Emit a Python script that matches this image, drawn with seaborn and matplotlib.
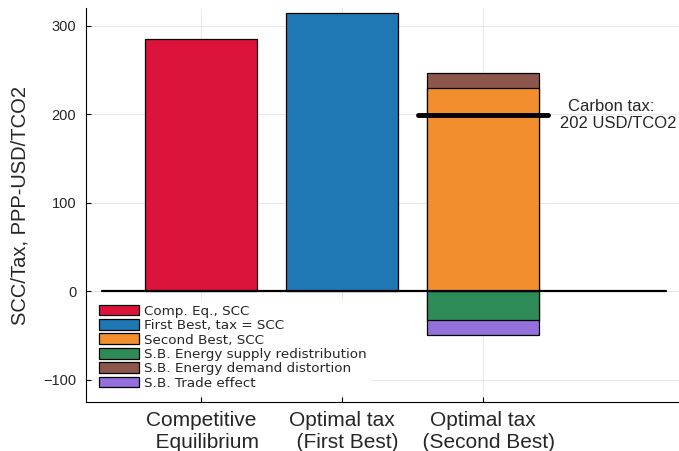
import pandas as pd
import matplotlib.pyplot as plt
import seaborn as sns
from matplotlib.patches import Patch

# categories (tick labels) and values
categories = ["Competitive\n  Equilibrium", "Optimal tax\n  (First Best)", "Optimal tax\n  (Second Best)"]
comp_eq_scc = 285
first_best_scc = 315
second_best_scc = 230
demand_distortion = 17
supply_redistribution = -33
trade_effect = -16
carbon_tax = 199
carbon_tax_label = "Carbon tax:\n   202 USD/TCO2"

legend_names = ["Comp. Eq., SCC", "First Best, tax = SCC", "Second Best, SCC",
                "S.B. Energy supply redistribution", "S.B. Energy demand distortion",
                "S.B. Trade effect"]
colors = ["#DC143C", "#1F77B4", "#F28E2E", "#2E8B57", "#8C564B", "#9370DB"]
palette = dict(zip(legend_names, colors))

sns.set_style("whitegrid")
plt.rcParams['font.family'] = ['Liberation Sans', 'DejaVu Sans']

# overlapping bars: the larger (stacked total) is drawn first, the base segment on top
df = pd.DataFrame({
    "cat": [categories[0], categories[1], categories[2], categories[2], categories[2], categories[2]],
    "series": [legend_names[0], legend_names[1], legend_names[4], legend_names[2],
               legend_names[5], legend_names[3]],
    "value": [comp_eq_scc, first_best_scc, second_best_scc + demand_distortion, second_best_scc,
              supply_redistribution + trade_effect, supply_redistribution],
})

fig = plt.figure(figsize=(6.79, 4.51), dpi=100)
ax = fig.add_axes([0.1267, 0.1093, 0.8733, 0.8723])

sns.barplot(data=df, x="cat", y="value", hue="series", order=categories,
            hue_order=list(df["series"]), palette=palette, dodge=False, width=0.8,
            saturation=1, errorbar=None, edgecolor="black", linewidth=0.9,
            legend=False, ax=ax)

n = len(categories)
ax.plot([-0.7, n - 1 + 1.3], [0, 0], color="black", lw=1.6, zorder=5)
ax.plot([n - 1 - 0.46, n - 1 + 0.46], [carbon_tax, carbon_tax], color="black", lw=3.5,
        solid_capstyle="round", zorder=6)
ax.text(n - 1 + 0.91, carbon_tax, carbon_tax_label, ha="center", va="center",
        fontsize=12, linespacing=1.2)

ax.set_xlim(-0.816, 3.39)
ax.set_ylim(-125, 320)
ax.set_yticks([-100, 0, 100, 200, 300])
ax.set_xlabel("")
ax.set_ylabel("SCC/Tax, PPP-USD/TCO2", fontsize=14.5, labelpad=10)

ax.grid(True, color="#e8e8e8", lw=0.7)
ax.xaxis.grid(True)
ax.set_axisbelow(True)
for s in ["top", "right"]:
    ax.spines[s].set_visible(False)
for s in ["left", "bottom"]:
    ax.spines[s].set_color("black")
    ax.spines[s].set_linewidth(0.8)
ax.tick_params(axis="y", direction="in", length=3.5, width=0.8, color="black",
               labelsize=10.5, pad=7, left=True)
ax.tick_params(axis="x", direction="in", length=3.5, width=0.8, color="black",
               labelsize=15, pad=7, bottom=True)

handles = [Patch(facecolor=c, edgecolor="black", lw=0.9) for c in colors]
ax.legend(handles, legend_names, loc="upper left", bbox_to_anchor=(0.0135, 0.2585),
          borderaxespad=0, borderpad=0.35, frameon=True, framealpha=1,
          edgecolor="none", facecolor="white", fancybox=False,
          prop={"family": "DejaVu Sans", "size": 9.7},
          handlelength=3.0, handleheight=0.85, handletextpad=0.35, labelspacing=0.1)

plt.savefig("out.png", dpi=100)
